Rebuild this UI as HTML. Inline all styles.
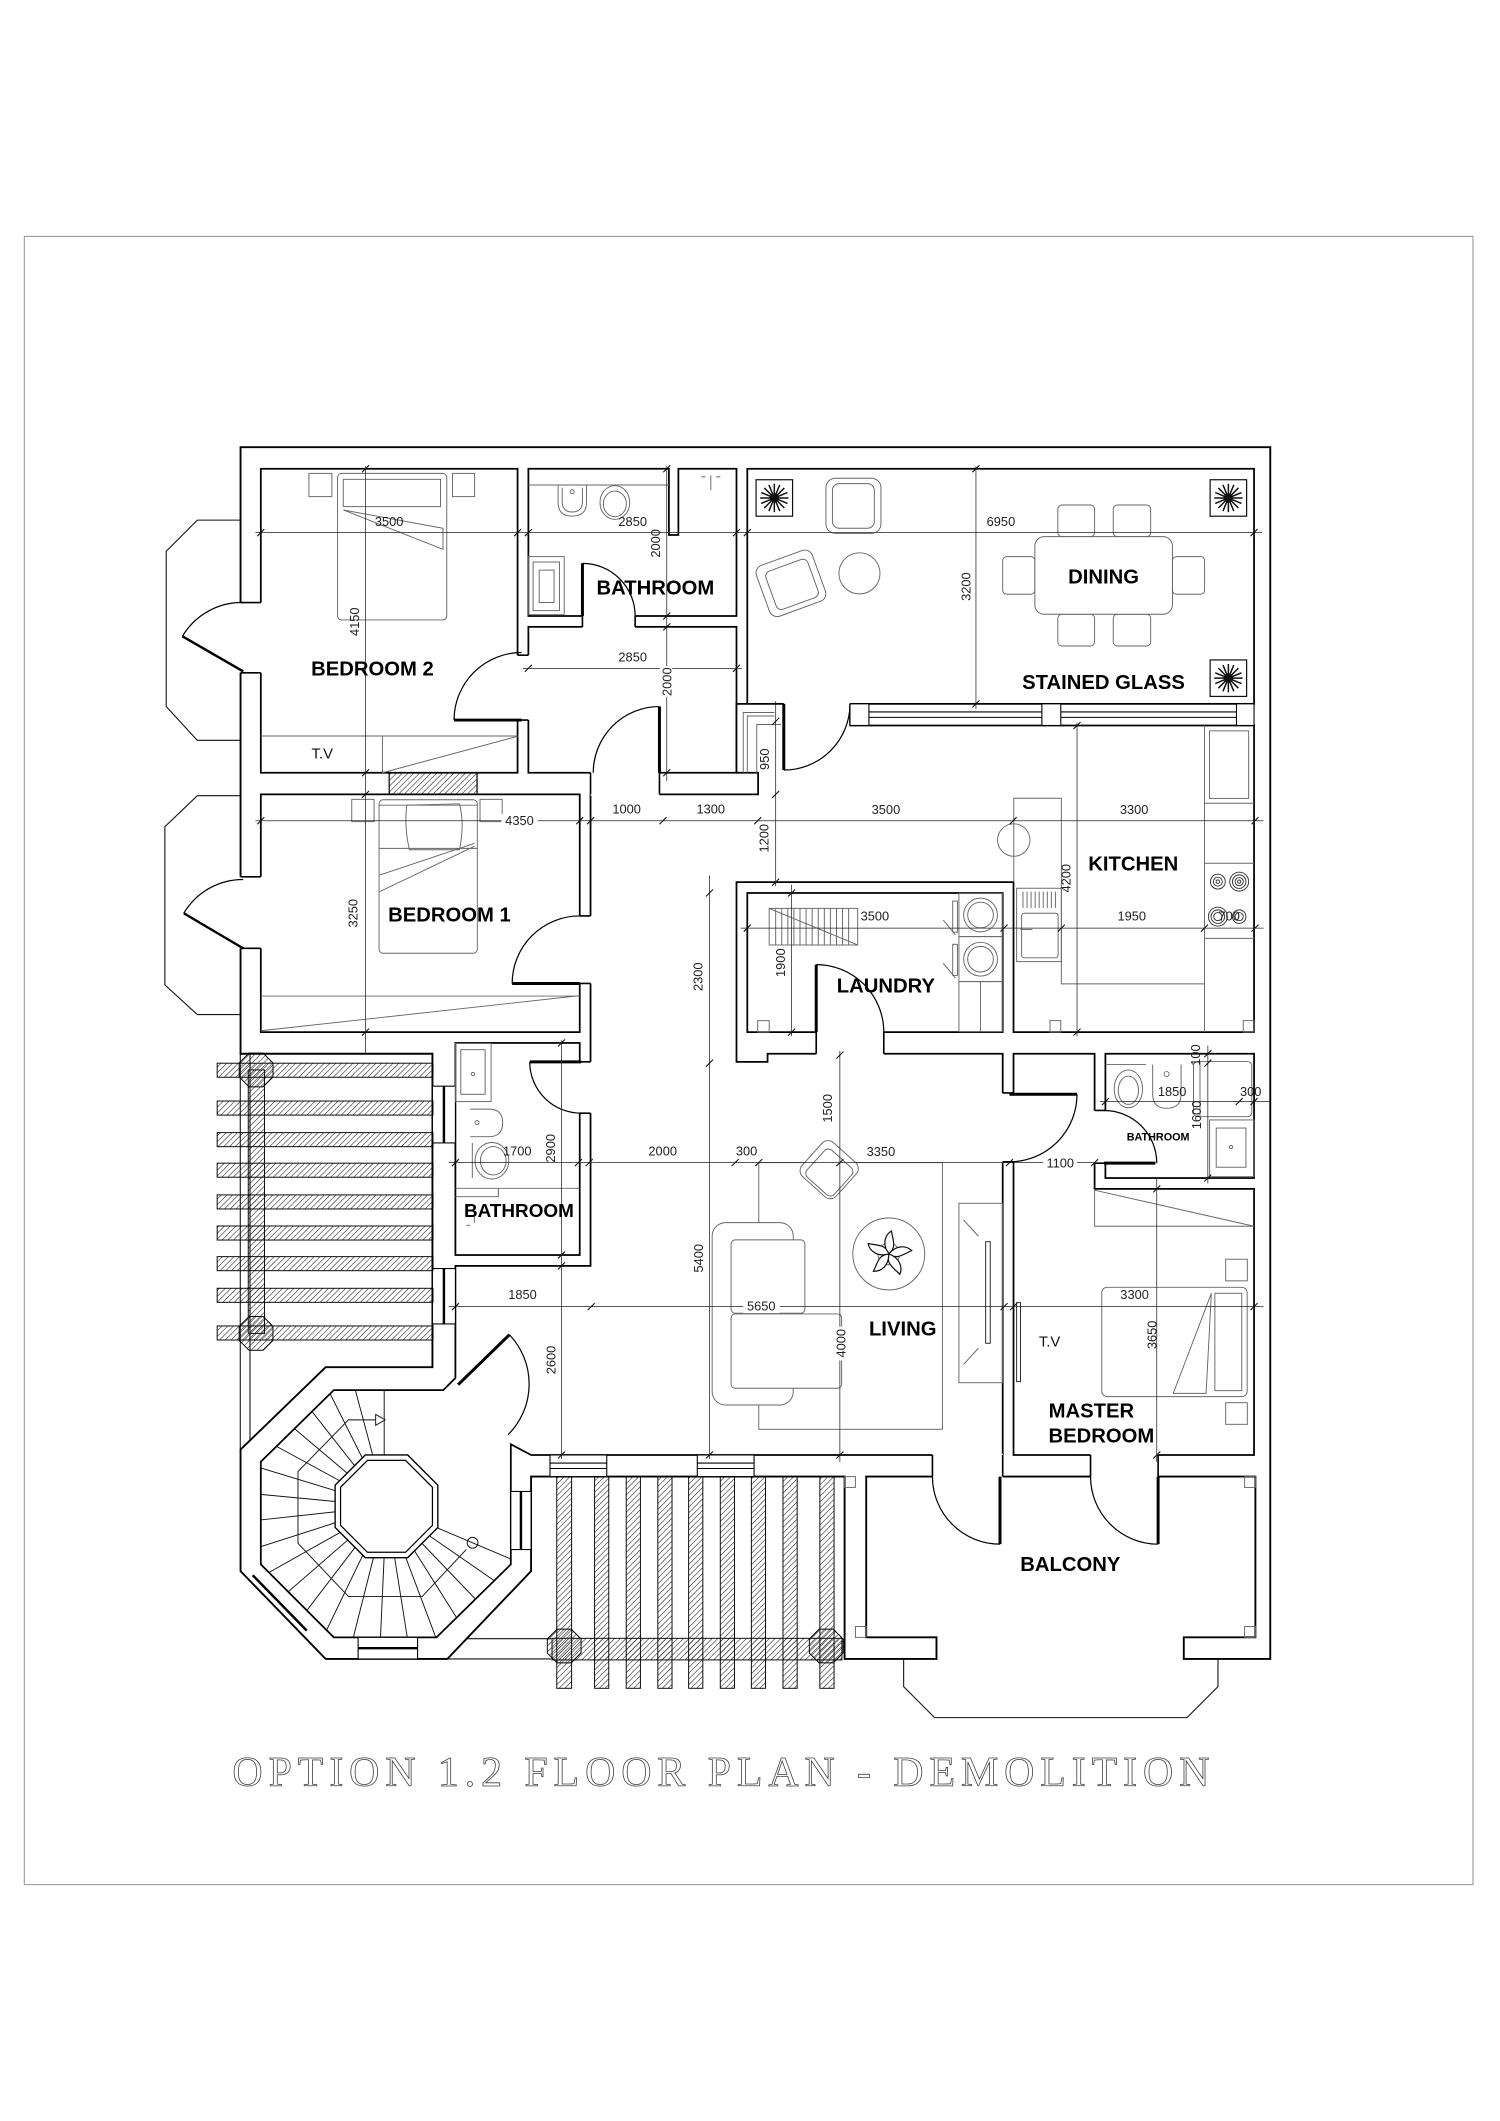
<!DOCTYPE html>
<html><head><meta charset="utf-8">
<style>
html,body{margin:0;padding:0;background:#fff;}
svg{display:block;}
.d{font-size:9.5px;fill:#222;text-anchor:middle;}
.l{font-size:15px;font-weight:bold;fill:#000;text-anchor:middle;}
</style></head>
<body>
<svg width="1500" height="2121" viewBox="0 0 1110 1570" preserveAspectRatio="none" xmlns="http://www.w3.org/2000/svg" font-family="'Liberation Sans', Arial, sans-serif">
<defs>
<pattern id="h" width="3" height="3" patternUnits="userSpaceOnUse" patternTransform="rotate(45)"><line x1="0" y1="0" x2="0" y2="3" stroke="#1a1a1a" stroke-width="0.8"/></pattern>
<path id="t" d="M-2.6,2.6 L2.6,-2.6" stroke="#111" stroke-width="0.8" fill="none"/>
<polygon id="oct" points="12.5,5.2 5.2,12.5 -5.2,12.5 -12.5,5.2 -12.5,-5.2 -5.2,-12.5 5.2,-12.5 12.5,-5.2"/>
<g id="star">
<rect x="-13.5" y="-13.5" width="27" height="27" fill="#fff" stroke="#111" stroke-width="0.9"/>
<g stroke="#111" stroke-width="1.1">
<line x1="-10.5" y1="0" x2="10.5" y2="0"/>
<line x1="-10.5" y1="0" x2="10.5" y2="0" transform="rotate(22.5)"/>
<line x1="-10.5" y1="0" x2="10.5" y2="0" transform="rotate(45)"/>
<line x1="-10.5" y1="0" x2="10.5" y2="0" transform="rotate(67.5)"/>
<line x1="-10.5" y1="0" x2="10.5" y2="0" transform="rotate(90)"/>
<line x1="-10.5" y1="0" x2="10.5" y2="0" transform="rotate(112.5)"/>
<line x1="-10.5" y1="0" x2="10.5" y2="0" transform="rotate(135)"/>
<line x1="-10.5" y1="0" x2="10.5" y2="0" transform="rotate(157.5)"/>
</g>
<circle r="3.5" fill="#111"/>
</g>
<clipPath id="sc"><polygon points="193,1082 247,1029 328,1029 337,1020 378,1069 378,1158 323,1212 247,1212 193,1158"/></clipPath>
</defs>

<rect width="1110" height="1570" fill="#fff"/>
<rect x="18" y="175" width="1072" height="1220" fill="none" stroke="#999" stroke-width="0.8"/>

<!-- bays (thin) -->
<g fill="none" stroke="#111" stroke-width="0.8">
<polyline points="178,385 146,385 123,408 123,523 146,548 178,548"/>
<polyline points="178,589 146,589 122,612 122,729 146,751 178,751"/>
<polyline points="668.7,1228 668.7,1248.5 691.6,1271.4 878.4,1271.4 901.3,1248.5 901.3,1228"/>
<line x1="177.8" y1="780" x2="177.8" y2="1073"/>
<line x1="185" y1="780" x2="185" y2="1066"/>
<line x1="331" y1="1228" x2="408" y2="1228"/>
<line x1="342" y1="1213" x2="408" y2="1213"/>
</g>

<!-- footprint -->
<polygon points="178,331 940,331 940,1228 876,1228 876,1212 929,1212 929,1093 641,1093 641,1212 693,1212 693,1228 625,1228 625,1093 393,1093 393,1163 331,1228 241,1228 178,1163 178,1073 241,1012 320,1012 320,780 178,780" fill="#fff" stroke="#000" stroke-width="1.4" stroke-linejoin="miter"/>

<!-- rooms -->
<g fill="#fff" stroke="#000" stroke-width="1.3">
<rect x="193" y="347" width="190" height="225"/>
<polygon points="391,347 495,347 495,396 502,396 502,347 545,347 545,456 391,456"/>
<rect x="391" y="464" width="154" height="108"/>
<rect x="553" y="347" width="375" height="174"/>
<rect x="193" y="588" width="236" height="176"/>
<rect x="337" y="772" width="92" height="157"/>
<rect x="553" y="661" width="189" height="103"/>
<rect x="818" y="780" width="110" height="92"/>
<polygon points="750,780 810,780 810,880 928,880 928,1077 750,1077"/>
<polygon points="437,588 561,588 561,572 545,572 545,521 580,521 580,537 928,537 928,764 750,764 750,653 545,653 545,786 568,786 568,780 742,780 742,1077 393,1077 378,1069 378,1158 323,1212 247,1212 193,1158 193,1082 247,1029 328,1029 337,1020 337,937 437,937"/>
</g>

<!-- chimney hatch -->
<rect x="288" y="572" width="65" height="16" fill="url(#h)" stroke="#000" stroke-width="0.9"/>

<!-- door gaps -->
<g fill="#fff" stroke="none">
<rect x="176.5" y="446" width="18" height="52"/>
<rect x="176.5" y="649" width="18" height="53"/>
<rect x="382" y="485" width="10" height="48"/>
<rect x="431" y="455" width="39" height="10"/>
<rect x="437" y="571" width="51" height="18"/>
<rect x="580" y="520" width="49" height="18"/>
<rect x="428" y="678" width="10" height="50"/>
<rect x="428" y="786" width="10" height="38"/>
<rect x="604" y="763" width="50" height="18"/>
<rect x="741" y="809" width="10" height="51"/>
<rect x="809" y="822" width="10" height="39"/>
<rect x="690" y="1076" width="52" height="18"/>
<rect x="807" y="1076" width="50" height="18"/>
</g>
<path fill="none" stroke="#000" stroke-width="1.2" d="
M178,446H193 M178,498H193 M178,649H193 M178,702H193
M383,485H391 M383,533H391
M431,456V464 M470,456V464
M437,572V588 M488,572V588
M580,521V537 M629,521V537
M429,678H437 M429,728H437 M429,786H437 M429,824H437
M604,764V780 M654,764V780
M742,809H750 M742,860H750
M810,822H818 M810,861H818
M690,1077V1093 M742,1077V1093 M807,1077V1093 M857,1077V1093"/>

<!-- windows -->
<g fill="#fff" stroke="#000" stroke-width="0.8">
<rect x="629" y="521" width="14" height="16"/>
<rect x="771" y="521" width="14" height="16"/>
<rect x="915" y="521" width="13" height="16"/>
<rect x="407" y="1077" width="42" height="16"/>
<rect x="516" y="1077" width="42" height="16"/>
<rect x="320" y="804" width="17" height="42"/>
<rect x="320" y="939" width="17" height="41"/>
<rect x="378" y="1104" width="15" height="43"/>
<rect x="265" y="1212" width="44" height="16"/>
</g>
<path fill="none" stroke="#000" stroke-width="0.8" d="M643,527H771 M643,531H771 M785,527H915 M785,531H915 M407,1083H449 M407,1087H449 M516,1083H558 M516,1087H558"/>
<path fill="none" stroke="#000" stroke-width="1.8" d="M328.5,804V846 M328.5,939V980 M385.5,1104V1147 M265,1220H309 M187,1166 L227,1207"/>

<!-- left pergola -->
<g fill="url(#h)" stroke="#000" stroke-width="0.7">
<rect x="183.7" y="792" width="12" height="195"/>
<rect x="160.7" y="787" width="159.7" height="10.4"/>
<rect x="160.7" y="815" width="159.7" height="10.4"/>
<rect x="160.7" y="838.4" width="159.7" height="10.4"/>
<rect x="160.7" y="861" width="159.7" height="10.4"/>
<rect x="160.7" y="884.5" width="159.7" height="10.4"/>
<rect x="160.7" y="907.5" width="159.7" height="10.4"/>
<rect x="160.7" y="930.2" width="159.7" height="10.4"/>
<rect x="160.7" y="953.6" width="159.7" height="10.4"/>
<rect x="160.7" y="981.5" width="159.7" height="10.4"/>
<use href="#oct" x="189.5" y="792"/>
<use href="#oct" x="189.5" y="987"/>
</g>

<!-- bottom pergola -->
<g fill="url(#h)" stroke="#000" stroke-width="0.7">
<rect x="408.5" y="1212.7" width="214.5" height="16"/>
<rect x="412" y="1093" width="11" height="156.7"/>
<rect x="440" y="1093" width="10.5" height="156.7"/>
<rect x="463.4" y="1093" width="10.5" height="156.7"/>
<rect x="486.8" y="1093" width="10.5" height="156.7"/>
<rect x="509.6" y="1093" width="10.5" height="156.7"/>
<rect x="533" y="1093" width="10.5" height="156.7"/>
<rect x="556" y="1093" width="10.5" height="156.7"/>
<rect x="579.4" y="1093" width="10.5" height="156.7"/>
<rect x="606.7" y="1093" width="10.5" height="156.7"/>
<use href="#oct" x="417.5" y="1218.4"/>
<use href="#oct" x="611.4" y="1218.4"/>
</g>

<!-- stair -->
<g clip-path="url(#sc)" stroke="#111" stroke-width="0.7" fill="none">
<path d="M313.6,1126.7L414.9,1169.7 M310.7,1132L401.2,1194.5 M306.8,1136.7L382.9,1216.1 M302,1140.4L360.6,1233.5 M296.6,1143.1L335.3,1246.1 M290.7,1144.6L307.9,1253.3 M284.6,1145L279.6,1254.9 M278.6,1144.1L251.7,1250.7 M272.9,1142L225.1,1241 M267.8,1138.8L201,1226.2 M263.4,1134.7L180.3,1206.9 M259.9,1129.7L164,1183.7 M257.4,1124.2L152.7,1157.8 M256.2,1118.2L146.8,1130.1 M256.1,1112.2L146.6,1101.8 M257.3,1106.2L152.1,1074.1 M259.7,1100.6L163.1,1048 M263.1,1095.7L179,1024.7 M267.5,1091.4L199.5,1004.9 M272.6,1088.2L223.3,989.8 M278.2,1086L249.8,979.8 M284.3,1029V1080"/>
<path d="M284.3,1051 H257.9 L220.5,1089.3 V1142.4 L257.9,1181.8 H312.4 L345,1147"/>
</g>
<polygon points="278,1047 285,1051 278,1055" fill="#fff" stroke="#111" stroke-width="0.7"/>
<circle cx="349.7" cy="1142" r="4" fill="none" stroke="#111" stroke-width="0.7"/>
<polygon points="324,1130.7 301.7,1153 270.3,1153 248,1130.7 248,1099.3 270.3,1077 301.7,1077 324,1099.3" fill="#fff" stroke="#000" stroke-width="1"/>
<polygon points="320,1129.1 300.1,1149 271.9,1149 252,1129.1 252,1100.9 271.9,1081 300.1,1081 320,1100.9" fill="none" stroke="#000" stroke-width="0.9"/>

<!-- furniture -->
<g fill="none" stroke="#666" stroke-width="0.7">
<rect x="228.6" y="350.4" width="17" height="17.2"/>
<rect x="334.8" y="350.4" width="16.4" height="17.2"/>
<rect x="249.8" y="350.4" width="80.8" height="108.5" rx="3"/>
<rect x="254" y="354.8" width="72" height="20.2"/>
<path d="M254.1,377.5 L327.8,391 L327.8,406.6 Z"/>
<path d="M193,544.8H383 M283,544.8V572 M283,572 L383,545"/>
<rect x="260.3" y="591.7" width="16.5" height="16.5"/>
<rect x="355.2" y="591.7" width="16.4" height="16.5"/>
<rect x="280.5" y="592" width="72.7" height="113.6" rx="3"/>
<path d="M280.5,596H353.2 M280.5,628H353.2 M281,647.7 L351.2,624.2 M281,660 L351.2,626.4"/>
<path d="M301,596 Q299,612 303,629 L340,629 Q344,610 340,595 Z"/>
<path d="M193,737.3H429 M193,763 L429,737"/>
<path d="M391,359H495"/>
<path d="M413,359 V372 Q413,382 423.4,382 Q434,382 434,372 V359"/>
<path d="M416,361 V371 Q416,379 423.4,379 Q431,379 431,371 V361"/>
<circle cx="423.4" cy="364" r="1.5"/>
<ellipse cx="455" cy="372" rx="11" ry="12.5"/>
<ellipse cx="455" cy="373" rx="8.5" ry="9.5"/>
<rect x="391" y="412" width="26.5" height="43"/>
<rect x="394.5" y="416" width="19.5" height="36"/>
<rect x="399" y="422" width="11" height="24"/>
<path d="M519,353 h3 M530,353 h3 M526,352 v11"/>
<rect x="611.2" y="354" width="40.7" height="40.8" rx="7"/>
<rect x="616" y="358" width="31" height="33" rx="5"/>
<g transform="translate(585.3,431.8) rotate(-20)"><rect x="-22" y="-20" width="44" height="40" rx="6"/><rect x="-16" y="-14" width="33" height="30" rx="4"/></g>
<circle cx="636" cy="424.4" r="15.2"/>
<rect x="782.8" y="373.8" width="27.2" height="23.4" rx="3"/>
<rect x="823.8" y="373.8" width="27.7" height="23.4" rx="3"/>
<rect x="782.8" y="454.7" width="27.2" height="23.5" rx="3"/>
<rect x="823.8" y="454.7" width="27.7" height="23.5" rx="3"/>
<rect x="742" y="412" width="23.8" height="27.9" rx="3"/>
<rect x="867.6" y="412" width="23.8" height="27.9" rx="3"/>
<rect x="765.8" y="397.2" width="101.8" height="57.5" rx="7" fill="#fff"/>
<path d="M550,572 V527.4 H573 M553,572 V530 H573 M560,572 V536.3 H578"/>
<path d="M750.2,653 V590.9 H785.4 V728.3 H891.3 M891.3,537 V764 M891.3,594.6 H928 M891.3,639 H928 M891.3,694.6 H928"/>
<rect x="895" y="541" width="29" height="50"/>
<circle cx="750.2" cy="621.8" r="12"/>
<rect x="752.3" y="657.5" width="33.1" height="54.3"/>
<path d="M757,660V672 M760,660V672 M763,660V672 M766,660V672 M769,660V672 M772,660V672 M775,660V672 M778,660V672 M781,660V672"/>
<rect x="756" y="676" width="27" height="33" rx="2"/>
<path d="M755,688 H764"/>
<g stroke="#333"><circle cx="901.2" cy="652.6" r="5.5"/><circle cx="901.2" cy="652.6" r="3.3"/><circle cx="901.2" cy="652.6" r="1.3"/>
<circle cx="917" cy="652.6" r="7"/><circle cx="917" cy="652.6" r="5"/><circle cx="917" cy="652.6" r="3"/><circle cx="917" cy="652.6" r="1.2"/>
<circle cx="901.2" cy="678.5" r="7"/><circle cx="901.2" cy="678.5" r="5"/><circle cx="901.2" cy="678.5" r="3"/>
<circle cx="917" cy="678.5" r="5"/><circle cx="917" cy="678.5" r="3"/></g>
<rect x="777" y="755.5" width="8" height="8.5"/>
<rect x="920" y="755.5" width="8" height="8.5"/>
<rect x="569.2" y="672.4" width="65.5" height="27.1"/>
<path d="M574,672.4V699.5 M578.5,672.4V699.5 M583,672.4V699.5 M587.5,672.4V699.5 M592,672.4V699.5 M596.5,672.4V699.5 M601,672.4V699.5 M605.5,672.4V699.5 M610,672.4V699.5 M614.5,672.4V699.5 M619,672.4V699.5 M623.5,672.4V699.5 M628,672.4V699.5 M569.2,672.4 L634.7,699.5"/>
<rect x="709.6" y="661.2" width="32.1" height="32.1"/>
<rect x="709.6" y="693.3" width="32.1" height="33.3"/>
<rect x="709.6" y="726.6" width="32.1" height="37.1"/>
<path d="M725.6,726.6V763.7"/>
<circle cx="725.6" cy="677.3" r="12.5"/><circle cx="725.6" cy="677.3" r="9.5"/>
<circle cx="725.6" cy="710" r="12.5"/><circle cx="725.6" cy="710" r="9.5"/>
<rect x="705" y="667" width="3.5" height="23"/><rect x="705" y="699" width="3.5" height="23"/>
<path d="M698,681 L707,692 M698,713 L707,724"/>
<rect x="560.7" y="755.5" width="8.5" height="8.5"/>
<rect x="337" y="772.3" width="26.4" height="43.1"/>
<rect x="341" y="777" width="18" height="33"/>
<circle cx="350" cy="795" r="1.2"/>
<path d="M348,821 H362 Q372,821 372,831 Q372,841.4 362,841.4 H348"/>
<circle cx="353" cy="831" r="1.5"/>
<path d="M349.5,846 V872"/>
<ellipse cx="364" cy="859.2" rx="12.5" ry="13.5"/>
<ellipse cx="365" cy="859.2" rx="9.5" ry="10.5"/>
<path d="M337,879.6 H368.8 V885.8 H337 M368.8,879.6 H429"/>
<path d="M345,893 h3 M345,907 h3 M351,897 v8"/>
<path d="M818,788 H848"/>
<ellipse cx="835" cy="806" rx="10.5" ry="14"/>
<ellipse cx="835" cy="807" rx="7.5" ry="10.5"/>
<path d="M853,788 V810 Q853,820.4 863.3,820.4 Q874,820.4 874,810 V788"/>
<circle cx="863.3" cy="795" r="1.8"/>
<rect x="883.2" y="785.8" width="43.1" height="40.8" rx="3"/>
<path d="M888,786 V826"/>
<rect x="895.1" y="829" width="32.9" height="42"/>
<rect x="900" y="835" width="22" height="29"/>
<circle cx="911" cy="849" r="1.2"/>
<rect x="561.5" y="860.6" width="135.9" height="197.4"/>
<rect x="527" y="905" width="60" height="135" rx="10" fill="#fff"/>
<rect x="541" y="917.8" width="54.6" height="54.3" rx="3" fill="#fff"/>
<rect x="541" y="972.6" width="81.8" height="55" rx="3" fill="#fff"/>
<g transform="translate(613.6,865.8) rotate(42)"><rect x="-17" y="-17" width="34" height="34" rx="6" fill="#fff"/><rect x="-12" y="-12" width="27" height="27" rx="4"/></g>
<circle cx="657.7" cy="928.2" r="26.6" fill="#fff"/>
<circle cx="657.7" cy="928.2" r="8"/>
<rect x="709.6" y="890.7" width="32.2" height="132.8"/>
<rect x="729.4" y="919.1" width="3.4" height="75.2" stroke="#222"/>
<path d="M713,903 L724,915 M713,1010 L724,998"/>
<path d="M810,880 V907.7 H928 M810,881 L928,907.7"/>
<rect x="752.3" y="964.2" width="2.9" height="58.5" stroke="#222"/>
<rect x="815.3" y="952.9" width="107.6" height="80.9" rx="4"/>
<rect x="899" y="957.3" width="19.9" height="72.1"/>
<path d="M896.4,957.3 L868.2,1031.4 L892.5,1031.4 Z"/>
<rect x="907" y="932.1" width="16" height="16"/>
<rect x="907" y="1038.3" width="16" height="16"/>
<rect x="625" y="1093" width="8" height="8"/>
<rect x="921" y="1093" width="8" height="8"/>
<rect x="633" y="1204" width="8" height="8"/>
<rect x="921" y="1204" width="8" height="8"/>
</g>

<g transform="translate(657.7,928.2)" stroke="#111" stroke-width="0.9" fill="#fff">
<path d="M0,0 C-5,-7 -3,-14 2,-17 C3,-10 6,-5 0,0Z"/>
<path d="M0,0 C-5,-7 -3,-14 2,-17 C3,-10 6,-5 0,0Z" transform="rotate(75)"/>
<path d="M0,0 C-5,-7 -3,-14 2,-17 C3,-10 6,-5 0,0Z" transform="rotate(145)"/>
<path d="M0,0 C-5,-7 -3,-14 2,-17 C3,-10 6,-5 0,0Z" transform="rotate(215)"/>
<path d="M0,0 C-5,-7 -3,-14 2,-17 C3,-10 6,-5 0,0Z" transform="rotate(290)"/>
</g>

<use href="#star" x="573" y="368.6"/>
<use href="#star" x="909" y="368.6"/>
<use href="#star" x="909" y="502"/>

<!-- doors -->
<g stroke="#000" fill="none">
<path stroke-width="1.8" d="M180,497 L135,471 M180,702 L136,676"/>
<path stroke-width="2.2" d="M386,533 H336 M431,456 V417 M488,572 V523 M580,521 V570 M429,728 H379 M430,786 H392 M604,764 V714 M747,810 H797 M817,861 H855 M740,1093 V1143 M857,1093 V1143 M339,1025 L377,988"/>
<path stroke-width="0.9" d="M135,471 A51,51 0 0 1 180,446 M136,676 A51,51 0 0 1 180,651 M336,533 A50,50 0 0 1 386,483 M431,417 A39,39 0 0 1 470,456 M488,523 A49,49 0 0 0 439,572 M580,570 A49,49 0 0 0 629,521 M379,728 A50,50 0 0 1 429,678 M392,786 A38,38 0 0 0 430,824 M604,714 A50,50 0 0 1 654,764 M797,810 A50,50 0 0 1 747,860 M817,822 A39,39 0 0 1 856,861 M690,1093 A50,50 0 0 0 740,1143 M807,1093 A50,50 0 0 0 857,1143 M377,988 A53,53 0 0 1 376,1062"/>
</g>

<!-- dimension lines -->
<g stroke="#222" stroke-width="0.55" fill="none">
<path d="M189,394.3H934 M270.5,345V780 M493.4,345V578 M387,494.7H549 M722.2,345V525 M189,607.5H935 M574,519V656 M797,535V767 M548,687H935 M585.8,655V767 M525,648V1080 M415.5,770V1080 M332,860.6H810 M621.5,778V1082 M332,967.2H935 M856,872V1082 M814,815.4H940 M893.8,774V876"/>
</g>
<g>
<use href="#t" x="193" y="394.3"/><use href="#t" x="383" y="394.3"/><use href="#t" x="391" y="394.3"/><use href="#t" x="545" y="394.3"/><use href="#t" x="553" y="394.3"/><use href="#t" x="928" y="394.3"/>
<use href="#t" x="270.5" y="347"/><use href="#t" x="270.5" y="572"/><use href="#t" x="270.5" y="588"/><use href="#t" x="270.5" y="764"/>
<use href="#t" x="493.4" y="347"/><use href="#t" x="493.4" y="456"/><use href="#t" x="493.4" y="464"/><use href="#t" x="493.4" y="572"/>
<use href="#t" x="391" y="494.7"/><use href="#t" x="545" y="494.7"/>
<use href="#t" x="722.2" y="347"/><use href="#t" x="722.2" y="521"/>
<use href="#t" x="193" y="607.5"/><use href="#t" x="429" y="607.5"/><use href="#t" x="437" y="607.5"/><use href="#t" x="490.6" y="607.5"/><use href="#t" x="560.7" y="607.5"/><use href="#t" x="749.7" y="607.5"/><use href="#t" x="928.7" y="607.5"/>
<use href="#t" x="574" y="534"/><use href="#t" x="574" y="588"/><use href="#t" x="574" y="653"/>
<use href="#t" x="797" y="537"/><use href="#t" x="797" y="764"/>
<use href="#t" x="553" y="687"/><use href="#t" x="743" y="687"/><use href="#t" x="785.4" y="687"/><use href="#t" x="891.3" y="687"/><use href="#t" x="928.7" y="687"/>
<use href="#t" x="585.8" y="661"/><use href="#t" x="585.8" y="764"/>
<use href="#t" x="525" y="661"/><use href="#t" x="525" y="787"/><use href="#t" x="525" y="1077"/>
<use href="#t" x="415.5" y="772"/><use href="#t" x="415.5" y="929"/><use href="#t" x="415.5" y="937"/><use href="#t" x="415.5" y="1077"/>
<use href="#t" x="337" y="860.6"/><use href="#t" x="428" y="860.6"/><use href="#t" x="436" y="860.6"/><use href="#t" x="544" y="860.6"/><use href="#t" x="561.5" y="860.6"/><use href="#t" x="621.5" y="860.6"/><use href="#t" x="747" y="860.6"/><use href="#t" x="810" y="860.6"/>
<use href="#t" x="621.5" y="781"/><use href="#t" x="621.5" y="1077"/>
<use href="#t" x="337" y="967.2"/><use href="#t" x="437.5" y="967.2"/><use href="#t" x="743" y="967.2"/><use href="#t" x="750" y="967.2"/><use href="#t" x="928" y="967.2"/>
<use href="#t" x="856" y="880"/><use href="#t" x="856" y="1077"/>
<use href="#t" x="818" y="815.4"/><use href="#t" x="917" y="815.4"/><use href="#t" x="928" y="815.4"/>
<use href="#t" x="893.8" y="780"/><use href="#t" x="893.8" y="787"/><use href="#t" x="893.8" y="872"/>
</g>

<g fill="#fff">
<rect x="371" y="602.5" width="27" height="10"/>
<rect x="772" y="856" width="25" height="10"/>
<rect x="550" y="962" width="27" height="10"/>
<rect x="488.5" y="493" width="9" height="23"/>
<rect x="617" y="982" width="10" height="25"/>
</g>

<g class="d">
<text x="288" y="389.3" class="d">3500</text>
<text x="468.2" y="389.3" class="d">2850</text>
<text x="740.7" y="389.3" class="d">6950</text>
<text x="468.2" y="489.8" class="d">2850</text>
<text x="384.4" y="610.7" class="d">4350</text>
<text x="463.7" y="602" class="d">1000</text>
<text x="526" y="602" class="d">1300</text>
<text x="655.6" y="602.5" class="d">3500</text>
<text x="839.3" y="602.5" class="d">3300</text>
<text x="647.4" y="681.5" class="d">3500</text>
<text x="837.5" y="681.5" class="d">1950</text>
<text x="909.6" y="681.5" class="d">700</text>
<text x="382.8" y="855.4" class="d">1700</text>
<text x="490.4" y="855.4" class="d">2000</text>
<text x="552.5" y="855.4" class="d">300</text>
<text x="651.9" y="855.7" class="d">3350</text>
<text x="784.6" y="864.3" class="d">1100</text>
<text x="867.4" y="811.3" class="d">1850</text>
<text x="925.5" y="811.3" class="d">300</text>
<text x="386.7" y="961.7" class="d">1850</text>
<text x="563.3" y="970.2" class="d">5650</text>
<text x="839.6" y="961.7" class="d">3300</text>
<text class="d" transform="translate(265.5,460.2) rotate(-90)">4150</text>
<text class="d" transform="translate(488.5,402.2) rotate(-90)">2000</text>
<text class="d" transform="translate(497,504.6) rotate(-90)">2000</text>
<text class="d" transform="translate(718.3,434.2) rotate(-90)">3200</text>
<text class="d" transform="translate(569,562) rotate(-90)">950</text>
<text class="d" transform="translate(568.7,620.5) rotate(-90)">1200</text>
<text class="d" transform="translate(264.7,676) rotate(-90)">3250</text>
<text class="d" transform="translate(520,723) rotate(-90)">2300</text>
<text class="d" transform="translate(792.3,650.1) rotate(-90)">4200</text>
<text class="d" transform="translate(581,712.6) rotate(-90)">1900</text>
<text class="d" transform="translate(888,781) rotate(-90)">100</text>
<text class="d" transform="translate(410.6,850) rotate(-90)">2900</text>
<text class="d" transform="translate(520.3,931.4) rotate(-90)">5400</text>
<text class="d" transform="translate(411,1006.7) rotate(-90)">2600</text>
<text class="d" transform="translate(615.7,820.4) rotate(-90)">1500</text>
<text class="d" transform="translate(625.8,994.3) rotate(-90)">4000</text>
<text class="d" transform="translate(888.8,825.3) rotate(-90)">1600</text>
<text class="d" transform="translate(855.8,988.1) rotate(-90)">3650</text>
</g>

<text x="275.6" y="500" class="l">BEDROOM 2</text>
<text x="485" y="440" class="l">BATHROOM</text>
<text x="816.6" y="432" class="l">DINING</text>
<text x="816.6" y="510" class="l">STAINED GLASS</text>
<text x="332.6" y="682" class="l">BEDROOM 1</text>
<text x="838.6" y="644.5" class="l">KITCHEN</text>
<text x="655.6" y="734.5" class="l">LAUNDRY</text>
<text x="384" y="901" class="l" style="font-size:14px">BATHROOM</text>
<text x="668" y="988.6" class="l">LIVING</text>
<text x="807.6" y="1049.4" class="l">MASTER</text>
<text x="815" y="1067.6" class="l">BEDROOM</text>
<text x="857" y="844.3" class="l" style="font-size:8px">BATHROOM</text>
<text x="792" y="1163" class="l">BALCONY</text>
<text x="238.5" y="561.3" style="font-size:11px;text-anchor:middle;fill:#111">T.V</text>
<text x="776.7" y="996.8" style="font-size:11px;text-anchor:middle;fill:#111">T.V</text>

<text x="172" y="1322" font-family="'Liberation Serif', 'DejaVu Serif', serif" font-size="31" textLength="723" lengthAdjust="spacing" fill="#fff" stroke="#444" stroke-width="0.6">OPTION 1.2 FLOOR PLAN - DEMOLITION</text>
</svg>
</body></html>
